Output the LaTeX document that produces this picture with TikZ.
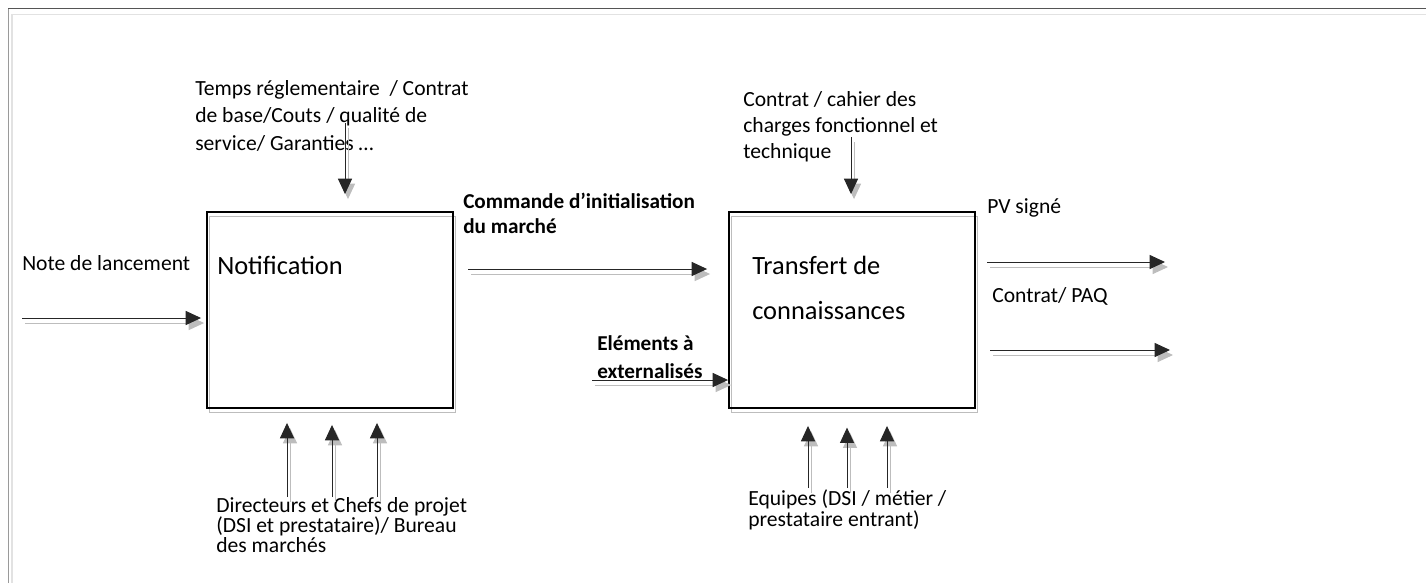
\documentclass[tikz,border=0pt]{standalone}
\usepackage{fontspec}
\setmainfont{Carlito}
\usetikzlibrary{arrows.meta}
\definecolor{shadowgray}{HTML}{BDBDBD}
\definecolor{framedark}{HTML}{555555}
\definecolor{frameleft}{HTML}{9A9A9A}
\definecolor{framelight}{HTML}{E2E2E2}
\tikzset{
  x=0.75pt, y=-0.75pt,
  lbl/.style={inner sep=0pt, anchor=base west, align=left},
  boxnode/.style={draw=black, line width=1.4pt, minimum width=184.5pt, minimum height=147pt, inner sep=0pt,
    preaction={draw=shadowgray, line width=1.2pt, transform canvas={shift={(2pt,-3.5pt)}}}},
  flow/.style={draw=black!85, line width=0.75pt, -{Triangle[length=11.5pt,width=10.5pt]},
    preaction={draw=shadowgray, line width=0.75pt, -{Triangle[length=11.5pt,width=10.5pt]}, transform canvas={shift={(2.25pt,-3.75pt)}}}},
}
\begin{document}
\begin{tikzpicture}
\useasboundingbox (0,0) rectangle (1426,583);
% page frame
\draw[framelight, line width=1.2pt] (12,583) -- (12,14.5) -- (1426,14.5);
\draw[frameleft, line width=1.4pt] (8.5,583) -- (8.5,8.5);
\draw[framedark, line width=1.4pt] (8,8.5) -- (1426,8.5);

% boxes
\node[boxnode] (nb1) at (330,310) {};
\node[boxnode] (nb2) at (852,310) {};
\node[lbl, font=\fontsize{19.8}{33.75}\selectfont] (t1) at (217,274) {Notification};
\node[lbl, font=\fontsize{19.8}{33.75}\selectfont] (t2) at (752,319) {Transfert de\\connaissances};

% labels (anchored at the baseline of their last line)
\node[lbl, font=\fontsize{16.2}{20.6}\selectfont] (ctl1) at (195,150) {Temps réglementaire~ / Contrat\\de base/Couts / qualité de\\service/ Garanties …};
\node[lbl, font=\fontsize{16.2}{19.5}\selectfont] (ctl2) at (743,158) {Contrat / cahier des\\charges fonctionnel et\\technique};
\node[lbl, font=\fontsize{16.2}{18}\selectfont] (in1) at (22,270) {Note de lancement};
\node[lbl, font=\bfseries\fontsize{15.9}{18.75}\selectfont] (out1) at (463,233) {Commande d’initialisation\\du marché};
\node[lbl, font=\bfseries\fontsize{15.9}{21}\selectfont] (in2) at (597,378) {Eléments à\\externalisés};
\node[lbl, font=\fontsize{16.2}{18}\selectfont] (out2) at (987,213) {PV signé};
\node[lbl, font=\fontsize{16.2}{18}\selectfont] (out3) at (992,302) {Contrat/ PAQ};
\node[lbl, font=\fontsize{16.2}{14.3}\selectfont] (mec1) at (216,552) {Directeurs et Chefs de projet\\(DSI et prestataire)/ Bureau\\des marchés};
\node[lbl, font=\fontsize{16.2}{14.3}\selectfont] (mec2) at (748,526) {Equipes (DSI / métier /\\prestataire entrant)};

% connector coordinates
\coordinate (a1) at (345,123);
\coordinate (a2) at (851,137);
\coordinate (a3) at (22,318);
\coordinate (a4) at (468,269);
\coordinate (a5) at (592,380);
\coordinate (a6) at (987,262);
\coordinate (a6e) at (1165,262);
\coordinate (a7) at (990,350);
\coordinate (a7e) at (1170,350);
\coordinate (m1) at (287,497);
\coordinate (m2) at (332,497);
\coordinate (m3) at (377,497);
\coordinate (m4) at (808,488);
\coordinate (m5) at (847,488);
\coordinate (m6) at (887,488);

% connectors
\draw[flow, shorten >=12.75pt] (a1) -- (a1 |- nb1.north);
\draw[flow, shorten >=12.75pt] (a2) -- (a2 |- nb2.north);
\draw[flow, shorten >=3.75pt] (a3) -- (a3 -| nb1.west);
\draw[flow, shorten >=15.75pt] (a4) -- (a4 -| nb2.west);
\draw[flow] (a5) -- (a5 -| nb2.west);
\draw[flow] (a6) -- (a6e);
\draw[flow] (a7) -- (a7e);
\draw[flow, shorten >=10.5pt] (m1) -- (m1 |- nb1.south);
\draw[flow, shorten >=12pt] (m2) -- (m2 |- nb1.south);
\draw[flow, shorten >=10.5pt] (m3) -- (m3 |- nb1.south);
\draw[flow, shorten >=12.75pt] (m4) -- (m4 |- nb2.south);
\draw[flow, shorten >=14pt] (m5) -- (m5 |- nb2.south);
\draw[flow, shorten >=12.75pt] (m6) -- (m6 |- nb2.south);
\end{tikzpicture}
\end{document}
